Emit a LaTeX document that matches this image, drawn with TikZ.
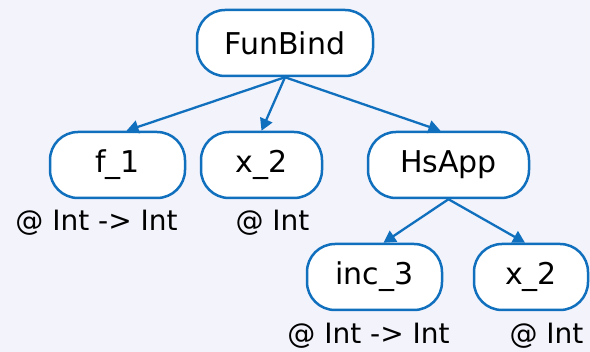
\documentclass[tikz,border=0pt]{standalone}
\usepackage{fontspec}
\setmainfont{DejaVu Sans}
\usetikzlibrary{arrows.meta}
\definecolor{bg}{RGB}{243,243,251}
\definecolor{edge}{RGB}{16,112,190}
\begin{document}
\begin{tikzpicture}[x=1pt,y=-1pt,
  nd/.style={draw=edge, line width=2.5pt, fill=white, rounded corners=28pt,
    inner sep=0pt, minimum height=66pt, font=\fontsize{30}{34}\selectfont},
  lbl/.style={inner sep=0pt, font=\fontsize{28}{32}\selectfont},
  conn/.style={draw=edge, line width=2.3pt, -{Triangle[length=12pt,width=13pt]}}]
\fill[bg] (0,0) rectangle (590,352);
\useasboundingbox (0,0) rectangle (590,352);
\node[nd, minimum width=176pt] (fb) at (285,43) {FunBind};
\node[nd, minimum width=135pt] (f1) at (117.5,165) {f\_1};
\node[nd, minimum width=121pt] (x2) at (261.5,165) {x\_2};
\node[nd, minimum width=161pt] (hs) at (448.5,165) {HsApp};
\node[nd, minimum width=135pt] (inc) at (374.5,277) {inc\_3};
\node[nd, minimum width=114pt] (x2b) at (531,277) {x\_2};
\node[lbl] (l1) at (96.5,223) {@ Int -> Int};
\node[lbl] (l2) at (272.5,223) {@ Int};
\node[lbl] (l3) at (368.5,336) {@ Int -> Int};
\node[lbl] (l4) at (546.5,336) {@ Int};
\coordinate (fbb) at (fb.south);
\coordinate (hsb) at (hs.south);
\draw[conn] (fbb) -- ([xshift=9pt]f1.north);
\draw[conn] (fbb) -- (x2.north);
\draw[conn] (fbb) -- ([xshift=-8pt]hs.north);
\draw[conn] (hsb) -- ([xshift=9pt]inc.north);
\draw[conn] (hsb) -- ([xshift=-6pt]x2b.north);
\end{tikzpicture}
\end{document}
